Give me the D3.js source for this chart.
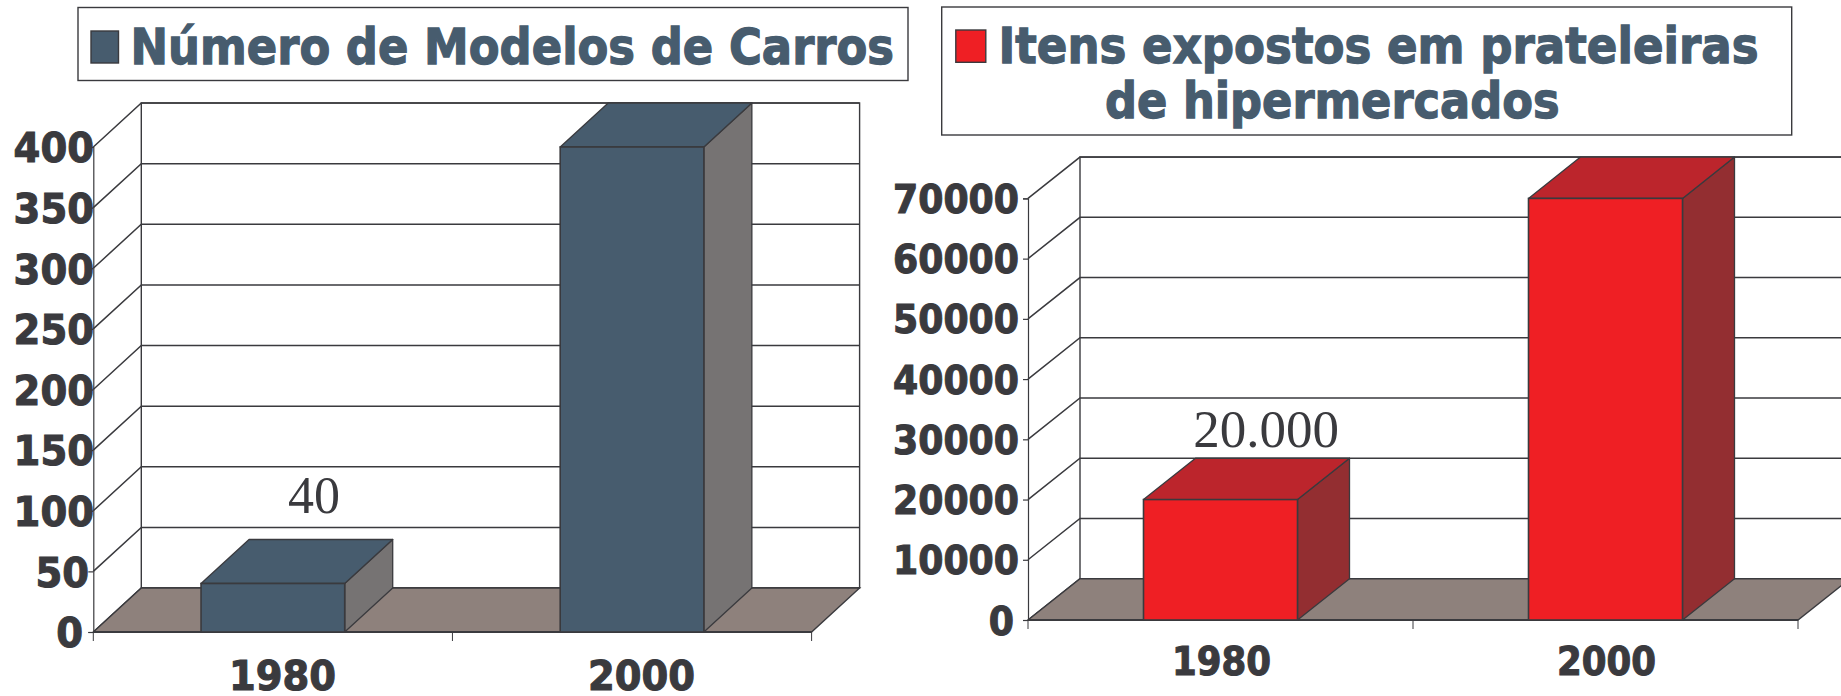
<!DOCTYPE html>
<html>
<head>
<meta charset="utf-8">
<script src="https://cdn.jsdelivr.net/npm/d3@7"></script>
<style>
html,body{margin:0;padding:0;background:#fff;overflow:hidden}
svg{display:block}
text{font-family:"DejaVu Sans",sans-serif;font-weight:bold}
</style>
</head>
<body>
<svg id="c" width="1841" height="696"></svg>
<script>
const categories = ["1980", "2000"];
const modelosValues = [40, 400];
const modelosTicks = [0, 50, 100, 150, 200, 250, 300, 350, 400];
const modelosLabels = ["40", ""];
const itensValues = [20000, 70000];
const itensTicks = [0, 10000, 20000, 30000, 40000, 50000, 60000, 70000];
const itensLabels = ["20.000", ""];
const modelosTitle = ["Número de Modelos de Carros"];
const itensTitle = ["Itens expostos em prateleiras", "de hipermercados"];

const INK = "#3a3a3e", TITLE = "#475c6e", FLOOR = "#8e817c";
const svg = d3.select("#c");

function chart(cfg) {
  const g = svg.append("g");
  const x = d3.scaleBand().domain(categories).range(cfg.xr).paddingInner(0).paddingOuter(0);
  const y = d3.scaleLinear().domain([0, d3.max(cfg.ticks)]).range(cfg.yr);
  const [dx, dy] = cfg.depth;
  const [x0, x1] = cfg.xr, y0 = cfg.yr[0], yTop = cfg.yr[1];
  const line = d3.line();

  // back wall
  g.append("rect").attr("x", x0 + dx).attr("y", yTop + dy)
    .attr("width", x1 - x0).attr("height", y0 - yTop)
    .attr("fill", "#fff").attr("stroke", INK).attr("stroke-width", 1.4);
  // gridlines on back wall and side wall
  g.selectAll(".grid").data(cfg.ticks).join("path").attr("class", "grid")
    .attr("d", t => line([[x0, y(t)], [x0 + dx, y(t) + dy], [x1 + dx, y(t) + dy]]))
    .attr("fill", "none").attr("stroke", INK).attr("stroke-width", 1.5);
  // floor
  g.append("path")
    .attr("d", line([[x0, y0], [x1, y0], [x1 + dx, y0 + dy], [x0 + dx, y0 + dy]]) + "Z")
    .attr("fill", FLOOR).attr("stroke", INK).attr("stroke-width", 1.4);

  // y axis
  const ax = g.append("g").attr("transform", `translate(${x0},0)`)
    .call(d3.axisLeft(y).tickValues(cfg.ticks).tickSize(5).tickPadding(0).tickFormat(d3.format("d")));
  ax.select(".domain").attr("stroke", INK).attr("stroke-width", 1.2);
  ax.selectAll(".tick line").attr("stroke", INK).attr("stroke-width", 1.2);
  ax.selectAll(".tick text")
    .attr("x", t => cfg.ylabelX(t) - x0)
    .attr("dy", "0.36em")
    .attr("fill", INK).attr("stroke", INK).attr("stroke-width", 1.1)
    .style("font-size", cfg.yFont + "px")
    .attr("textLength", t => String(t).length * cfg.yDigit)
    .attr("lengthAdjust", "spacingAndGlyphs");

  // x axis
  const bx = g.append("g").attr("transform", `translate(0,${y0})`)
    .call(d3.axisBottom(x).tickSize(0).tickPadding(0));
  bx.select(".domain").remove();
  bx.selectAll(".tick text")
    .attr("x", cfg.xLabelDx).attr("y", cfg.xLabelY - y0).attr("dy", 0)
    .attr("fill", INK).attr("stroke", INK).attr("stroke-width", 1.1)
    .style("font-size", cfg.xFont + "px")
    .attr("textLength", cfg.xWidth)
    .attr("lengthAdjust", "spacingAndGlyphs");
  // baseline + tick marks at category boundaries
  g.append("line").attr("x1", x0).attr("x2", x1).attr("y1", y0).attr("y2", y0)
    .attr("stroke", INK).attr("stroke-width", 2);
  g.selectAll(".xt").data(d3.range(categories.length + 1)).join("line").attr("class", "xt")
    .attr("x1", i => x0 + i * x.step()).attr("x2", i => x0 + i * x.step())
    .attr("y1", y0).attr("y2", y0 + 9)
    .attr("stroke", INK).attr("stroke-width", 1);

  // 3D bars
  const bw = x.bandwidth() * 0.4;
  const bars = g.selectAll(".bar").data(categories.map((c, i) => ({c, v: cfg.values[i], label: cfg.labels[i]})))
    .join("g").attr("class", "bar");
  const L = d => x(d.c) + (x.bandwidth() - bw) / 2, R = d => L(d) + bw;
  bars.append("path").attr("d", d => line([[R(d), y(d.v)], [R(d) + dx, y(d.v) + dy], [R(d) + dx, y0 + dy], [R(d), y0]]) + "Z")
    .attr("fill", cfg.side).attr("stroke", INK).attr("stroke-width", 1.3).attr("stroke-linejoin", "round");
  bars.append("path").attr("d", d => line([[L(d), y(d.v)], [R(d), y(d.v)], [R(d) + dx, y(d.v) + dy], [L(d) + dx, y(d.v) + dy]]) + "Z")
    .attr("fill", cfg.top).attr("stroke", INK).attr("stroke-width", 1.3).attr("stroke-linejoin", "round");
  bars.append("rect").attr("x", L).attr("y", d => y(d.v)).attr("width", bw).attr("height", d => y0 - y(d.v))
    .attr("fill", cfg.front).attr("stroke", INK).attr("stroke-width", 1.6);
  // data labels
  bars.filter(d => d.label).append("text")
    .attr("x", cfg.valueX).attr("y", cfg.valueY)
    .attr("text-anchor", "middle")
    .attr("fill", INK)
    .style("font-family", '"Liberation Serif",serif').style("font-weight", "normal")
    .style("font-size", cfg.valueFont + "px")
    .text(d => d.label);

  // legend
  const b = cfg.box;
  g.append("rect").attr("x", b[0]).attr("y", b[1]).attr("width", b[2] - b[0]).attr("height", b[3] - b[1])
    .attr("fill", "#fff").attr("stroke", INK).attr("stroke-width", 1.4);
  const s = cfg.swatch;
  g.append("rect").attr("x", s[0]).attr("y", s[1]).attr("width", s[2] - s[0]).attr("height", s[3] - s[1])
    .attr("fill", cfg.front).attr("stroke", INK).attr("stroke-width", 1.4);
  cfg.title.forEach((t, i) => {
    const p = cfg.titlePos[i];
    g.append("text").attr("x", p[0]).attr("y", p[2])
      .attr("textLength", p[1] - p[0]).attr("lengthAdjust", "spacingAndGlyphs")
      .attr("fill", TITLE).attr("stroke", TITLE).attr("stroke-width", 1.3)
      .style("font-size", cfg.titleFont + "px").text(t);
  });
}

chart({
  xr: [93.3, 811.6], yr: [632, 147], depth: [48, -44],
  ticks: modelosTicks, values: modelosValues, labels: modelosLabels,
  ylabelX: t => t === 0 ? 83 : t === 50 ? 89 : 94,
  yFont: 41, yDigit: 26.8,
  xFont: 40, xWidth: 107, xLabelDx: 9.5, xLabelY: 690,
  front: "#475c6e", top: "#475c6e", side: "#767373",
  valueX: 314, valueY: 513, valueFont: 52,
  box: [78, 7.5, 908, 80.5], swatch: [91, 31, 118.5, 63],
  title: modelosTitle, titlePos: [[130.5, 894, 64]], titleFont: 50
});
chart({
  xr: [1028, 1798], yr: [620, 198.4], depth: [52, -41.3],
  ticks: itensTicks, values: itensValues, labels: itensLabels,
  ylabelX: t => t === 0 ? 1014 : 1019,
  yFont: 39, yDigit: 25.2,
  xFont: 39, xWidth: 99, xLabelDx: 1, xLabelY: 675,
  front: "#ef1f24", top: "#bc252c", side: "#932e31",
  valueX: 1266, valueY: 447, valueFont: 53,
  box: [941.7, 7, 1791.7, 135], swatch: [955.8, 30, 985.8, 62.3],
  title: itensTitle, titlePos: [[998.5, 1758.5, 63], [1105, 1559.5, 117.5]], titleFont: 50
});
</script>
</body>
</html>
